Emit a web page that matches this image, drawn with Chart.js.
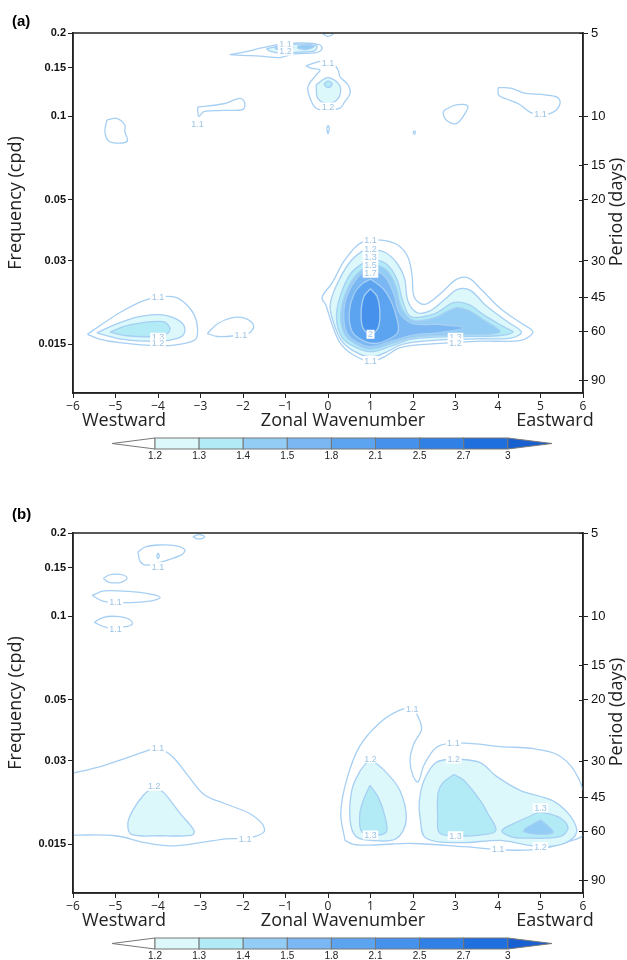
<!DOCTYPE html>
<html>
<head>
<meta charset="utf-8">
<script src="https://cdn.jsdelivr.net/npm/chart.js@4.4.0/dist/chart.umd.min.js"></script>
<style>
  body { margin: 0; background: #fff; width: 627px; height: 960px; position: relative; overflow: hidden; }
  canvas { position: absolute; left: 0; }
  #panelA { top: 0; }
  #panelB { top: 500px; }
</style>
</head>
<body>
<canvas id="panelA" width="627" height="460"></canvas>
<canvas id="panelB" width="627" height="460"></canvas>
<script>
// ejes
const xTicks = [-6, -5, -4, -3, -2, -1, 0, 1, 2, 3, 4, 5, 6]
const freqTicks = [0.2, 0.15, 0.1, 0.05, 0.03, 0.015]
const periodTicks = [5, 10, 15, 20, 30, 45, 60, 90]
const periodTickFreq = [0.2, 0.1, 0.0667, 0.05, 0.03, 0.0222, 0.0167, 0.0111]

// barra de colores
const barLevels = [1.2, 1.3, 1.4, 1.5, 1.8, 2.1, 2.5, 2.7, 3]
const barColors = ['#dcf8fb', '#b2ebf6', '#93cdf5', '#7ab7f3', '#5ca4f0', '#4691ec', '#3080e6', '#1f6fde', '#1860d0']

// panel (a) contornos [numero de onda, frecuencia]
const a_w_11 = [[-5.66,0.0163],[-5.3,0.0178],[-4.9,0.0195],[-4.4,0.0214],[-4.0,0.0222],[-3.6,0.0222],[-3.35,0.021],[-3.15,0.0192],[-3.07,0.0172],[-3.12,0.0156],[-3.5,0.015],[-4.0,0.0148],[-4.9,0.0152],[-5.4,0.0157]]
const a_w_12 = [[-5.44,0.0165],[-5.0,0.0177],[-4.5,0.0188],[-4.0,0.0192],[-3.6,0.0186],[-3.38,0.0174],[-3.42,0.0161],[-3.75,0.0155],[-4.3,0.0154],[-4.9,0.0157]]
const a_w_13 = [[-5.13,0.0166],[-4.8,0.0174],[-4.42,0.0179],[-3.88,0.0181],[-3.72,0.0172],[-3.78,0.0164],[-4.1,0.016],[-4.73,0.0161]]
const a_mid_11 = [[-2.84,0.0164],[-2.6,0.0178],[-2.27,0.0187],[-1.95,0.0186],[-1.75,0.0175],[-1.85,0.0165],[-2.2,0.0161],[-2.6,0.016]]
const a_e_11 = [[1.0,0.0358],[1.32,0.0356],[1.65,0.0342],[1.88,0.031],[1.98,0.0265],[2.03,0.0222],[2.27,0.0209],[2.65,0.0229],[3.03,0.0258],[3.31,0.026],[3.6,0.0237],[4.07,0.0201],[4.54,0.0179],[4.82,0.0166],[4.54,0.0155],[3.6,0.0154],[2.65,0.0151],[1.7,0.0146],[1.32,0.0135],[1.0,0.013],[0.57,0.0138],[0.28,0.0152],[0.09,0.0178],[-0.05,0.0208],[-0.14,0.0222],[0.09,0.0249],[0.38,0.03],[0.72,0.0345]]
const a_e_12 = [[1.0,0.0332],[1.35,0.0322],[1.62,0.0295],[1.8,0.026],[1.88,0.0215],[2.1,0.0195],[2.4,0.0198],[2.75,0.0218],[3.05,0.0237],[3.35,0.0235],[3.7,0.0208],[4.2,0.0182],[4.55,0.0166],[4.3,0.0158],[3.5,0.0157],[2.5,0.0155],[1.75,0.015],[1.35,0.014],[1.0,0.0135],[0.6,0.0142],[0.3,0.0156],[0.12,0.0182],[0.05,0.0208],[0.2,0.0245],[0.5,0.0295],[0.8,0.0325]]
const a_e_13 = [[1.0,0.0307],[1.38,0.0292],[1.62,0.0258],[1.76,0.0215],[1.95,0.0189],[2.5,0.0193],[2.95,0.0212],[3.3,0.0209],[3.7,0.019],[4.15,0.0173],[4.35,0.0166],[4.0,0.0161],[3.0,0.016],[2.0,0.0157],[1.5,0.0148],[1.0,0.0141],[0.62,0.0147],[0.33,0.0159],[0.2,0.0185],[0.28,0.0222],[0.55,0.0272]]
const a_e_14 = [[1.0,0.0296],[1.38,0.0278],[1.6,0.0243],[1.72,0.0205],[2.0,0.0183],[2.5,0.0187],[3.0,0.0203],[3.3,0.0199],[3.7,0.0182],[4.05,0.0167],[3.8,0.0163],[3.0,0.0162],[2.0,0.0159],[1.5,0.0151],[1.0,0.0144],[0.66,0.015],[0.4,0.0162],[0.3,0.0187],[0.38,0.0222],[0.62,0.0262]]
const a_e_15 = [[1.0,0.0285],[1.35,0.0262],[1.55,0.0228],[1.68,0.0195],[2.0,0.0178],[2.6,0.0177],[3.2,0.0172],[2.6,0.0165],[2.0,0.0162],[1.5,0.0154],[1.0,0.0147],[0.7,0.0152],[0.45,0.0164],[0.37,0.019],[0.45,0.0225],[0.7,0.0262]]
const a_e_18 = [[1.0,0.0258],[1.3,0.0238],[1.5,0.0212],[1.62,0.0186],[1.65,0.0167],[1.45,0.0157],[1.1,0.0151],[0.78,0.0156],[0.56,0.0168],[0.5,0.0195],[0.6,0.0226],[0.8,0.0248]]
const a_e_21 = [[1.0,0.0238],[1.15,0.0224],[1.22,0.0197],[1.18,0.0172],[1.0,0.0163],[0.82,0.0172],[0.78,0.0197],[0.85,0.0224]]
const a_lens_11 = [[-2.31,0.167],[-1.9,0.1715],[-1.6,0.1762],[-1.13,0.182],[-0.56,0.184],[-0.19,0.181],[-0.14,0.175],[-0.28,0.17],[-0.8,0.168],[-1.13,0.163],[-1.6,0.165],[-2.0,0.166]]
const a_lens_12 = [[-1.45,0.1755],[-1.0,0.181],[-0.5,0.182],[-0.26,0.179],[-0.32,0.1725],[-0.7,0.1705],[-1.1,0.169],[-1.35,0.1715]]
const a_lens_13a = [[-1.25,0.177],[-1.0,0.18],[-0.8,0.1775],[-0.98,0.1735],[-1.2,0.1745]]
const a_lens_13b = [[-0.72,0.179],[-0.5,0.181],[-0.33,0.1785],[-0.5,0.1745],[-0.7,0.176]]
const a_top_11 = [[-0.12,0.1985],[0,0.2005],[0.12,0.1985],[0,0.1945]]
const a_col_11 = [[-0.52,0.152],[-0.19,0.158],[0.09,0.156],[0.24,0.147],[0.28,0.139],[0.47,0.13],[0.52,0.121],[0.38,0.112],[0.28,0.107],[0,0.105],[-0.28,0.107],[-0.42,0.116],[-0.47,0.128],[-0.28,0.141],[-0.19,0.147],[-0.38,0.149]]
const a_col_12 = [[-0.28,0.13],[0,0.138],[0.28,0.129],[0.24,0.116],[0,0.111],[-0.24,0.116]]
const a_col_13 = [[-0.1,0.1305],[0,0.134],[0.1,0.1305],[0,0.127]]
const a_flag_11 = [[-3.07,0.108],[-2.45,0.111],[-2.07,0.116],[-1.96,0.112],[-2.0,0.106],[-2.45,0.105],[-2.92,0.104],[-3.04,0.1]]
const a_blobW_11 = [[-5.2,0.097],[-4.97,0.0983],[-4.78,0.093],[-4.78,0.088],[-4.72,0.0815],[-4.92,0.08],[-5.16,0.0815],[-5.25,0.088]]
const a_blobE_11 = [[2.73,0.105],[3.01,0.11],[3.29,0.109],[3.2,0.101],[3.01,0.094],[2.78,0.097],[2.71,0.1025]]
const a_far_11 = [[4.0,0.127],[4.3,0.1265],[4.6,0.1215],[5.1,0.1195],[5.4,0.117],[5.46,0.111],[5.3,0.1035],[5.0,0.101],[4.75,0.1035],[4.5,0.1105],[4.2,0.1155],[4.02,0.119]]
const a_dot1 = [[-0.03,0.0905],[0,0.0925],[0.03,0.0905],[0,0.0865]]
const a_dot2 = [[2.0,0.0875],[2.03,0.0885],[2.06,0.0875],[2.03,0.0862]]

// panel (b) contornos
const b_tiny = [[-3.18,0.1935],[-3.04,0.1975],[-2.9,0.1935],[-3.04,0.19]]
const b_loop_11 = [[-4.47,0.171],[-4.3,0.178],[-4.0,0.181],[-3.6,0.18],[-3.37,0.174],[-3.44,0.167],[-3.76,0.16],[-4.0,0.156],[-4.28,0.153],[-4.42,0.158]]
const b_loop_in = [[-4.03,0.1655],[-4.0,0.169],[-3.97,0.1655],[-4.0,0.1615]]
const b_ell1 = [[-5.29,0.137],[-5.15,0.141],[-5.0,0.142],[-4.82,0.141],[-4.73,0.137],[-4.85,0.133],[-5.0,0.132],[-5.17,0.133]]
const b_ell2 = [[-5.55,0.119],[-5.27,0.1235],[-4.7,0.123],[-4.2,0.1205],[-3.95,0.117],[-4.2,0.1135],[-4.85,0.112],[-5.3,0.1135]]
const b_ell3 = [[-5.5,0.095],[-5.3,0.099],[-5.0,0.1],[-4.7,0.098],[-4.6,0.094],[-4.8,0.0915],[-5.2,0.091]]
const b_w_11 = [[-6,0.0271],[-5.4,0.0285],[-4.89,0.0302],[-4.3,0.0325],[-4.0,0.0333],[-3.67,0.0312],[-3.29,0.0265],[-2.92,0.0227],[-2.45,0.0211],[-1.88,0.0195],[-1.55,0.0178],[-1.51,0.0166],[-1.88,0.0158],[-2.4,0.0157],[-3.0,0.0152],[-3.7,0.0148],[-4.3,0.0152],[-5.0,0.0161],[-6,0.0162]]
const b_w_12 = [[-4.09,0.0243],[-4.35,0.0225],[-4.6,0.0198],[-4.71,0.0178],[-4.62,0.0163],[-3.95,0.0161],[-3.2,0.0162],[-3.15,0.0168],[-3.48,0.0194],[-3.86,0.023]]
const b_e_11 = [[0.4,0.0155],[0.3,0.0195],[0.45,0.026],[0.75,0.034],[1.2,0.041],[1.65,0.0455],[1.98,0.0465],[2.12,0.0433],[2.2,0.039],[2.02,0.0346],[1.93,0.0302],[2.0,0.0265],[2.12,0.0252],[2.26,0.029],[2.54,0.0335],[2.9,0.0348],[3.5,0.0346],[4.05,0.0338],[4.8,0.0333],[5.4,0.0316],[5.8,0.0276],[6.05,0.022],[6.05,0.0165],[5.5,0.0151],[5.0,0.0144],[4.2,0.0143],[3.2,0.0147],[2.0,0.0151],[1.0,0.0149],[0.6,0.015]]
const b_e_12a = [[0.99,0.0306],[0.75,0.0275],[0.56,0.0235],[0.52,0.0183],[0.66,0.016],[1.03,0.0155],[1.6,0.0157],[1.84,0.0183],[1.69,0.0235],[1.32,0.0278]]
const b_e_13a = [[0.99,0.0245],[0.85,0.022],[0.75,0.0194],[0.78,0.0168],[1.0,0.0162],[1.37,0.0166],[1.32,0.0194],[1.18,0.0222]]
const b_e_12b = [[2.96,0.0306],[2.54,0.0296],[2.26,0.0255],[2.15,0.0215],[2.17,0.0185],[2.3,0.0158],[3.1,0.0152],[4.05,0.0155],[4.6,0.015],[5.0,0.0147],[5.5,0.015],[5.8,0.016],[5.84,0.0173],[5.65,0.0194],[5.27,0.0216],[4.52,0.0235],[3.95,0.0265],[3.58,0.0296]]
const b_e_13b = [[2.96,0.0268],[2.7,0.025],[2.59,0.023],[2.58,0.019],[2.62,0.0165],[3.0,0.0161],[3.58,0.0162],[3.95,0.0168],[3.75,0.0195],[3.58,0.0216],[3.2,0.0255]]
const b_e_13c = [[4.99,0.0197],[4.5,0.0182],[4.09,0.0168],[4.3,0.016],[4.61,0.0158],[5.46,0.016],[5.65,0.0172],[5.46,0.0187]]
const b_e_14c = [[5.0,0.0184],[4.6,0.0168],[5.0,0.0163],[5.3,0.0166]]

// etiquetas de contorno [k, f, texto]
const labelsA = [[-4.0,0.0222,'1.1'],[-4.0,0.0159,'1.3'],[-4.0,0.0151,'1.2'],[-2.05,0.0162,'1.1'],
  [1.0,0.0357,'1.1'],[1.0,0.0332,'1.2'],[1.0,0.031,'1.3'],[1.0,0.029,'1.5'],[1.0,0.0271,'1.7'],
  [1.0,0.0163,'2'],[1.0,0.0131,'1.1'],[3.0,0.0159,'1.3'],[3.0,0.0152,'1.2'],
  [-1.0,0.183,'1.1'],[-1.0,0.172,'1.2'],[0,0.156,'1.1'],[0,0.108,'1.2'],[-3.07,0.094,'1.1'],[5.0,0.1015,'1.1']]
const labelsB = [[-4.0,0.0335,'1.1'],[-4.09,0.0243,'1.2'],[-1.95,0.0157,'1.1'],[1.98,0.0462,'1.1'],
  [1.0,0.0306,'1.2'],[1.0,0.0162,'1.3'],[2.95,0.0347,'1.1'],[2.96,0.0305,'1.2'],[3.0,0.0161,'1.3'],
  [5.0,0.0203,'1.3'],[4.0,0.0144,'1.1'],[5.0,0.0147,'1.2'],[-4.0,0.151,'1.1'],[-5.0,0.113,'1.1'],[-5.0,0.09,'1.1']]

const contoursA = [
  {level:1.1, pts:a_w_11}, {level:1.2, pts:a_w_12}, {level:1.3, pts:a_w_13},
  {level:1.1, pts:a_mid_11},
  {level:1.1, pts:a_e_11}, {level:1.2, pts:a_e_12}, {level:1.3, pts:a_e_13}, {level:1.4, pts:a_e_14},
  {level:1.5, pts:a_e_15}, {level:1.8, pts:a_e_18}, {level:2.1, pts:a_e_21},
  {level:1.1, pts:a_lens_11}, {level:1.2, pts:a_lens_12}, {level:1.4, pts:a_lens_13a}, {level:1.4, pts:a_lens_13b},
  {level:1.1, pts:a_top_11},
  {level:1.1, pts:a_col_11}, {level:1.2, pts:a_col_12}, {level:1.3, pts:a_col_13},
  {level:1.1, pts:a_flag_11}, {level:1.1, pts:a_blobW_11}, {level:1.1, pts:a_blobE_11}, {level:1.1, pts:a_far_11},
  {level:1.1, pts:a_dot1}, {level:1.1, pts:a_dot2}
]
const contoursB = [
  {level:1.1, pts:b_tiny}, {level:1.1, pts:b_loop_11}, {level:1.1, pts:b_loop_in},
  {level:1.1, pts:b_ell1}, {level:1.1, pts:b_ell2}, {level:1.1, pts:b_ell3},
  {level:1.1, pts:b_w_11, open:true}, {level:1.2, pts:b_w_12},
  {level:1.1, pts:b_e_11}, {level:1.2, pts:b_e_12a}, {level:1.3, pts:b_e_13a},
  {level:1.2, pts:b_e_12b}, {level:1.3, pts:b_e_13b}, {level:1.3, pts:b_e_13c}, {level:1.4, pts:b_e_14c}
]

const lineColor = '#a6cff3'
const textFont = 'Open Sans, Liberation Sans, sans-serif'

function toDataset(c) {
  const idx = barLevels.filter(l => l <= c.level + 1e-9).length - 1
  const pts = c.open ? c.pts : c.pts.concat([c.pts[0]])
  return {
    data: pts.map(p => ({x: p[0], y: p[1]})),
    borderColor: lineColor,
    borderWidth: 1.3,
    backgroundColor: idx >= 0 ? barColors[idx] : 'transparent',
    fill: idx >= 0 ? 'shape' : false,
    tension: 0.35,
    pointRadius: 0,
    order: Math.round(100 - c.level * 20)
  }
}

function makePanel(id, contours, labels, tag, tagY) {
  const decor = {
    id: 'decor' + tag,
    afterDatasetsDraw(chart) {
      const ctx = chart.ctx
      const sx = chart.scales.x, sy = chart.scales.y
      ctx.save()
      ctx.font = '9px Liberation Sans'
      ctx.textAlign = 'center'
      ctx.textBaseline = 'middle'
      labels.forEach(l => {
        const px = sx.getPixelForValue(l[0]), py = sy.getPixelForValue(l[1])
        const w = ctx.measureText(l[2]).width
        ctx.fillStyle = '#fff'
        ctx.fillRect(px - w / 2 - 1.5, py - 4.5, w + 3, 9)
        ctx.fillStyle = '#9cc4e6'
        ctx.fillText(l[2], px, py + 0.5)
      })
      ctx.restore()
    },
    afterDraw(chart) {
      const ctx = chart.ctx
      const a = chart.chartArea
      ctx.save()
      // marco
      ctx.strokeStyle = '#222'
      ctx.lineWidth = 1.5
      ctx.strokeRect(a.left, a.top, a.right - a.left, a.bottom - a.top)
      // ticks interiores eje derecho
      const s2 = chart.scales.y2
      ctx.lineWidth = 1
      periodTickFreq.forEach(v => {
        const py = Math.round(s2.getPixelForValue(v)) + 0.5
        ctx.beginPath(); ctx.moveTo(a.right - 4, py); ctx.lineTo(a.right, py); ctx.stroke()
      })
      // titulos
      ctx.fillStyle = '#222'
      ctx.font = '18px ' + textFont
      ctx.textBaseline = 'middle'
      ctx.textAlign = 'center'
      ctx.fillText('Westward', 124, 421)
      ctx.fillText('Zonal Wavenumber', 343, 421)
      ctx.fillText('Eastward', 555, 421)
      ctx.save(); ctx.translate(16, 203); ctx.rotate(-Math.PI / 2); ctx.fillText('Frequency (cpd)', 0, 0); ctx.restore()
      ctx.save(); ctx.translate(617, 212); ctx.rotate(-Math.PI / 2); ctx.fillText('Period (days)', 0, 0); ctx.restore()
      ctx.font = 'bold 15px Liberation Sans'
      ctx.textAlign = 'left'
      ctx.fillStyle = '#000'
      ctx.fillText('(' + tag + ')', 12, tagY)
      // barra de colores
      const top = 438, h = 11, x0 = 155, bw = 44.1
      ctx.strokeStyle = '#777'
      ctx.lineWidth = 1
      ctx.beginPath(); ctx.moveTo(112, top + h / 2); ctx.lineTo(x0, top); ctx.lineTo(x0, top + h); ctx.closePath()
      ctx.fillStyle = '#fff'; ctx.fill(); ctx.stroke()
      for (let i = 0; i < barLevels.length - 1; i++) {
        ctx.fillStyle = barColors[i]
        ctx.fillRect(x0 + i * bw, top, bw, h)
        ctx.strokeRect(x0 + i * bw, top, bw, h)
      }
      const xr = x0 + (barLevels.length - 1) * bw
      ctx.beginPath(); ctx.moveTo(xr, top); ctx.lineTo(552, top + h / 2); ctx.lineTo(xr, top + h); ctx.closePath()
      ctx.fillStyle = barColors[barColors.length - 1]; ctx.fill(); ctx.stroke()
      ctx.fillStyle = '#222'
      ctx.font = '10px Liberation Sans'
      ctx.textAlign = 'center'
      barLevels.forEach((l, i) => ctx.fillText(String(l), x0 + i * bw, top + h + 7))
      ctx.restore()
    }
  }

  const gridOpts = {drawOnChartArea: false, tickLength: 5, color: '#222'}
  const borderOpts = {color: '#222', width: 1.5}

  return new Chart(document.getElementById(id), {
    type: 'line',
    data: {datasets: contours.map(toDataset)},
    options: {
      responsive: false,
      animation: false,
      devicePixelRatio: 1,
      layout: {padding: {top: 33, left: 0, right: 0, bottom: 0}},
      plugins: {legend: {display: false}, tooltip: {enabled: false}},
      scales: {
        x: {
          type: 'linear', min: -6, max: 6,
          afterBuildTicks: s => { s.ticks = xTicks.map(v => ({value: v})) },
          afterFit: s => { s.height = 67 },
          ticks: {font: {family: textFont, size: 12}, color: '#222', padding: 1, maxRotation: 0, autoSkip: false,
            callback: v => v < 0 ? '\u2212' + (-v) : String(v)},
          grid: gridOpts, border: borderOpts
        },
        y: {
          type: 'logarithmic', position: 'left', min: 0.01, max: 0.2,
          afterBuildTicks: s => { s.ticks = freqTicks.map(v => ({value: v})) },
          afterFit: s => { s.width = 73 },
          ticks: {font: {family: 'Liberation Sans', size: 11, weight: 'bold'}, color: '#111', padding: 2, autoSkip: false,
            callback: v => String(v)},
          grid: gridOpts, border: borderOpts
        },
        y2: {
          type: 'logarithmic', position: 'right', min: 0.01, max: 0.2,
          afterBuildTicks: s => { s.ticks = periodTickFreq.map(v => ({value: v})) },
          afterFit: s => { s.width = 44 },
          ticks: {font: {family: 'Liberation Sans', size: 13}, color: '#111', padding: 3, autoSkip: false,
            callback: (v, i) => String(periodTicks[i])},
          grid: gridOpts, border: borderOpts
        }
      }
    },
    plugins: [decor]
  })
}

makePanel('panelA', contoursA, labelsA, 'a', 22)
makePanel('panelB', contoursB, labelsB, 'b', 15)
</script>
</body>
</html>
